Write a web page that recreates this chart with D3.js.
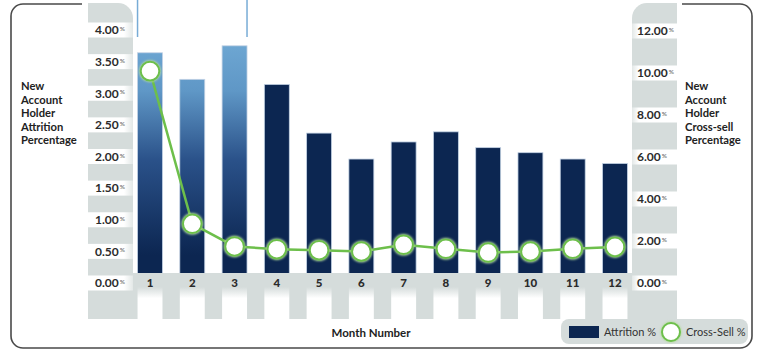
<!DOCTYPE html>
<html><head><meta charset="utf-8">
<script src="https://cdn.jsdelivr.net/npm/d3@7"></script>
<style>body{margin:0;background:#fff} svg{display:block;font-family:Lato,"Open Sans",sans-serif}</style>
</head><body><svg id="c" width="761" height="356"></svg>
<script>
// ---- data ----
const months = ["1","2","3","4","5","6","7","8","9","10","11","12"];
const attrition = [3.64,3.22,3.75,3.14,2.37,1.96,2.23,2.39,2.14,2.06,1.96,1.89];
const crossSell = [10.09,2.82,1.74,1.61,1.56,1.50,1.82,1.63,1.45,1.50,1.63,1.72];
const campaignMonths = ["1","2","3"];
const leftTicks = [0,0.5,1,1.5,2,2.5,3,3.5,4];
const rightTicks = [0,2,4,6,8,10,12];
const leftTitle = ["New","Account","Holder","Attrition","Percentage"];
const rightTitle = ["New","Account","Holder","Cross-sell","Percentage"];
const xTitle = "Month Number";
const legendLabels = ["Attrition %","Cross-Sell %"];

// ---- setup ----
const svg = d3.select("#c");
const GRAY = "#d5dcdb", NAVY = "#0c2651", GREEN = "#6dbf4b";
const x = d3.scaleBand().domain(months).range([133,632]).paddingInner(0.41).paddingOuter(0.1075);
const yL = d3.scaleLinear().domain([0,4]).range([283,30]);
const yR = d3.scaleLinear().domain([0,12]).range([283,31]);

const defs = svg.append("defs");
const bg = defs.append("linearGradient").attr("id","barGrad").attr("gradientUnits","userSpaceOnUse")
  .attr("x1",0).attr("x2",0).attr("y1",45).attr("y2",255);
[[0,"#6da6d2"],[0.22,"#5f97c6"],[0.55,"#2a5189"],[1,"#0c2651"]].forEach(s=>bg.append("stop").attr("offset",s[0]).attr("stop-color",s[1]));
const cg = defs.append("linearGradient").attr("id","colGrad").attr("x1",0).attr("x2",0).attr("y1",0).attr("y2",1);
[[0,GRAY],[0.35,"#ffffff"],[1,"#ffffff"]].forEach(s=>cg.append("stop").attr("offset",s[0]).attr("stop-color",s[1]));
const lg = defs.append("linearGradient").attr("id","lblGrad").attr("x1",0).attr("x2",1).attr("y1",0).attr("y2",0);
[[0,"#ffffff"],[0.8,"#ffffff"],[1,"#e3e8e7"]].forEach(s=>lg.append("stop").attr("offset",s[0]).attr("stop-color",s[1]));
const lg2 = defs.append("linearGradient").attr("id","lblGrad2").attr("x1",0).attr("x2",1).attr("y1",0).attr("y2",0);
[[0,"#e3e8e7"],[0.15,"#ffffff"],[1,"#ffffff"]].forEach(s=>lg2.append("stop").attr("offset",s[0]).attr("stop-color",s[1]));
defs.append("filter").attr("id","blur").attr("x","-50%").attr("y","-50%").attr("width","200%").attr("height","200%")
  .append("feGaussianBlur").attr("stdDeviation",1.2);

// frame
svg.append("path")
  .attr("d","M82,4 H23 A12,12 0 0 0 11,16 V336 A12,12 0 0 0 23,348 H740 A12,12 0 0 0 752,336 V16 A12,12 0 0 0 740,4 H682")
  .attr("fill","none").attr("stroke","#4a4a4a").attr("stroke-width",1.6);

// campaign bracket lines
const bx0 = x(campaignMonths[0]), bx1 = x(campaignMonths[campaignMonths.length-1]) + x.bandwidth();
svg.append("g").selectAll("line").data([bx0,bx1]).join("line")
  .attr("x1",d=>d).attr("x2",d=>d).attr("y1",0).attr("y2",37)
  .attr("stroke","#78acd6").attr("stroke-width",1.5);

// side panels
svg.append("path").attr("d","M88,3 H118 A15,15 0 0 1 133,18 V319 H88 Z").attr("fill",GRAY);
svg.append("path").attr("d","M677,3 H647 A15,15 0 0 0 632,18 V319 H677 Z").attr("fill",GRAY);

// bars
svg.append("g").selectAll("rect").data(attrition).join("rect")
  .attr("x",(d,i)=>x(months[i])).attr("width",x.bandwidth())
  .attr("y",d=>yL(d)).attr("height",d=>yL(0)-yL(d))
  .attr("fill",(d,i)=>campaignMonths.includes(months[i]) ? "url(#barGrad)" : NAVY)
  .attr("stroke","#c3d2e4").attr("stroke-width",0.8);

// bottom band
svg.append("rect").attr("x",133).attr("width",499).attr("y",273).attr("height",46).attr("fill",GRAY);
svg.append("g").selectAll("rect").data(months).join("rect")
  .attr("x",d=>x(d)).attr("width",x.bandwidth()).attr("y",287).attr("height",32).attr("fill","url(#colGrad)");

// label strips
svg.append("g").selectAll("rect").data(leftTicks).join("rect")
  .attr("x",88).attr("width",45).attr("y",d=>yL(d)-7.5).attr("height",15).attr("fill","url(#lblGrad)");
svg.append("g").selectAll("rect").data(rightTicks).join("rect")
  .attr("x",632).attr("width",45).attr("y",d=>yR(d)-7.5).attr("height",15).attr("fill","url(#lblGrad2)");

function styleAxis(g){
  g.select(".domain").remove();
  g.selectAll("text").attr("fill","#2b2b2b").attr("font-size",12).attr("font-weight",700)
    .attr("font-family","Lato, 'Open Sans', sans-serif");
}
function addPct(g){
  g.selectAll(".tick text").append("tspan").text("%").attr("font-size",6.5).attr("font-weight",400)
    .attr("dx",1).attr("dy","-0.5em").attr("fill","#555");
}
const ga = svg.append("g").attr("transform","translate(95,0)")
  .call(d3.axisRight(yL).tickValues(leftTicks).tickSize(0).tickPadding(0).tickFormat(d3.format(".2f")));
styleAxis(ga); addPct(ga);
const gr = svg.append("g").attr("transform","translate(637,0)")
  .call(d3.axisRight(yR).tickValues(rightTicks).tickSize(0).tickPadding(0).tickFormat(d3.format(".2f")));
styleAxis(gr); addPct(gr);
const gx = svg.append("g").attr("transform","translate(0,279)")
  .call(d3.axisBottom(x).tickSize(0).tickPadding(0));
styleAxis(gx); gx.selectAll("text").attr("font-size",11.5).attr("font-weight",900);

// cross-sell line
const cx = (d,i)=>x(months[i])+x.bandwidth()/2;
svg.append("path").datum(crossSell)
  .attr("d",d3.line().x(cx).y(d=>yR(d)))
  .attr("fill","none").attr("stroke",GREEN).attr("stroke-width",2.5);
const pts = svg.append("g").selectAll("g").data(crossSell).join("g")
  .attr("transform",(d,i)=>`translate(${cx(d,i)},${yR(d)})`);
pts.append("circle").attr("r",10.8).attr("fill","#b5dd9f").attr("filter","url(#blur)");
pts.append("circle").attr("r",9.3).attr("fill","#fff").attr("stroke",GREEN).attr("stroke-width",2);

// titles
function title(lines,x0){
  const t = svg.append("text").attr("x",x0).attr("y",90).attr("font-size",11.2).attr("font-weight",700).attr("fill","#222");
  t.selectAll("tspan").data(lines).join("tspan").attr("x",x0).attr("dy",(d,i)=>i?13.6:0).text(d=>d);
}
title(leftTitle,21);
title(rightTitle,685);
svg.append("text").attr("x",371).attr("y",337).attr("text-anchor","middle")
  .attr("font-size",11.5).attr("font-weight",700).attr("fill","#222").text(xTitle);

// legend
const lgG = svg.append("g");
lgG.append("rect").attr("x",561).attr("y",319).attr("width",187).attr("height",25).attr("rx",8).attr("fill",GRAY);
lgG.append("rect").attr("x",569).attr("y",326).attr("width",30).attr("height",12).attr("fill",NAVY);
lgG.append("text").attr("x",604).attr("y",336).attr("font-size",11).attr("fill","#333").text(legendLabels[0]);
lgG.append("circle").attr("cx",671).attr("cy",332).attr("r",10.5).attr("fill","#b5dd9f").attr("filter","url(#blur)");
lgG.append("circle").attr("cx",671).attr("cy",332).attr("r",9).attr("fill","#fff").attr("stroke",GREEN).attr("stroke-width",2);
lgG.append("text").attr("x",686).attr("y",336).attr("font-size",11).attr("fill","#333").text(legendLabels[1]);
</script></body></html>
